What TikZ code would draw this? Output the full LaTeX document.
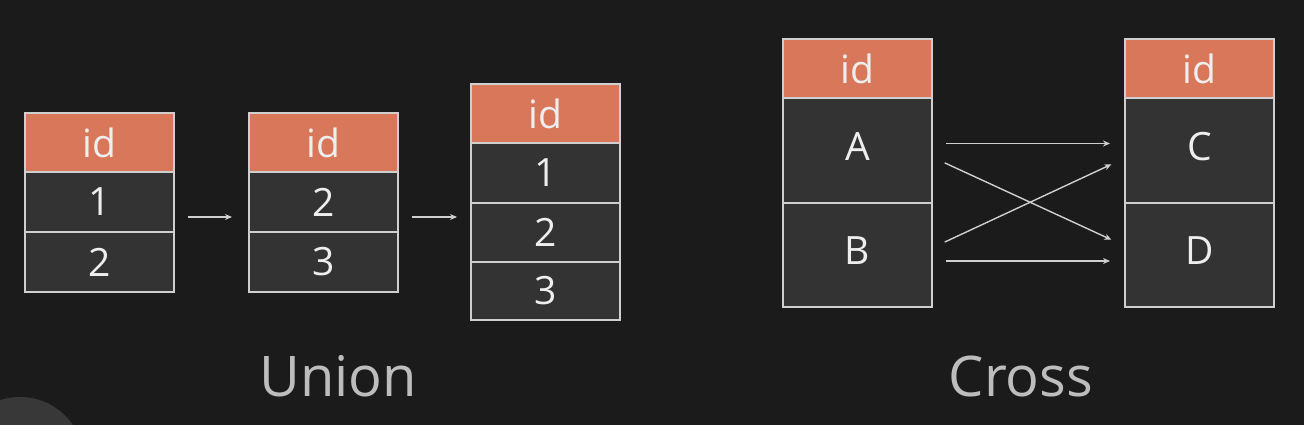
\documentclass[tikz,border=0pt]{standalone}
\usepackage{fontspec}
\setmainfont{Open Sans}
\usetikzlibrary{arrows.meta}
\definecolor{bg}{HTML}{1B1B1B}
\definecolor{hdr}{HTML}{D8775A}
\definecolor{cellc}{HTML}{333333}
\definecolor{edge}{HTML}{CFCFCF}
\definecolor{txt}{HTML}{EEEEEE}
\definecolor{lbl}{HTML}{BDBDBD}
\definecolor{blob}{HTML}{383838}
\newcommand{\up}[1]{\raisebox{8pt}{#1}}
\tikzset{
  cellbox/.style={draw=edge, line width=2pt, fill=cellc, text=txt, minimum width=149pt, inner sep=0pt, outer sep=0pt, font=\fontsize{39}{42}\selectfont, anchor=north west},
  hdrbox/.style={cellbox, fill=hdr},
  arr/.style={draw=edge, line width=1.4pt, -{Stealth[length=7pt,width=6pt]}},
  caption/.style={text=lbl, font=\fontsize{56}{60}\selectfont},
}
\begin{document}
\begin{tikzpicture}[x=1pt,y=-1pt]
\fill[bg] (0,0) rectangle (1304,425);
\useasboundingbox (0,0) rectangle (1304,425);
\fill[blob] (20,461) circle (64);
% Union table 1
\node[hdrbox, minimum height=59pt] (t1h) at (25,113) {id};
\node[cellbox, minimum height=60pt] (t1a) at (25,172) {1};
\node[cellbox, minimum height=60pt] (t1b) at (25,232) {2};
% Union table 2
\node[hdrbox, minimum height=59pt] (t2h) at (249,113) {id};
\node[cellbox, minimum height=60pt] (t2a) at (249,172) {2};
\node[cellbox, minimum height=60pt] (t2b) at (249,232) {3};
% Union table 3
\node[hdrbox, minimum height=59pt] (t3h) at (471,84) {id};
\node[cellbox, minimum height=60pt] (t3a) at (471,143) {1};
\node[cellbox, minimum height=59pt] (t3b) at (471,203) {2};
\node[cellbox, minimum height=58pt] (t3c) at (471,262) {3};
% Cross table left
\node[hdrbox, minimum height=59pt] (clh) at (783,39) {id};
\node[cellbox, minimum height=105pt] (ca) at (783,98) {\up{A}};
\node[cellbox, minimum height=104pt] (cb) at (783,203) {\up{B}};
% Cross table right
\node[hdrbox, minimum height=59pt] (crh) at (1125,39) {id};
\node[cellbox, minimum height=105pt] (cc) at (1125,98) {\up{C}};
\node[cellbox, minimum height=104pt] (cd) at (1125,203) {\up{D}};
% Union arrows
\draw[arr, shorten <=14pt, shorten >=17pt] ([yshift=15pt]t1a.south east) -- ([yshift=15pt]t2a.south west);
\draw[arr, shorten <=14pt, shorten >=14pt] ([yshift=15pt]t2a.south east) -- ([yshift=-14pt]t3a.south west);
% Cross arrows
\draw[arr, shorten <=14pt, shorten >=15pt] ([yshift=7pt]ca.east) -- ([yshift=7pt]cc.west);
\draw[arr, shorten <=14pt, shorten >=15pt] ([yshift=-6.5pt]ca.east) -- ([yshift=9pt]cd.west);
\draw[arr, shorten <=14pt, shorten >=15pt] ([yshift=7pt]cb.east) -- ([yshift=-7.5pt]cc.west);
\draw[arr, shorten <=14pt, shorten >=15pt] ([yshift=-6pt]cb.east) -- ([yshift=-6pt]cd.west);
% Captions
\node[caption] (u) at (338,376) {Union};
\node[caption] (c) at (1021,376) {Cross};
\end{tikzpicture}
\end{document}
